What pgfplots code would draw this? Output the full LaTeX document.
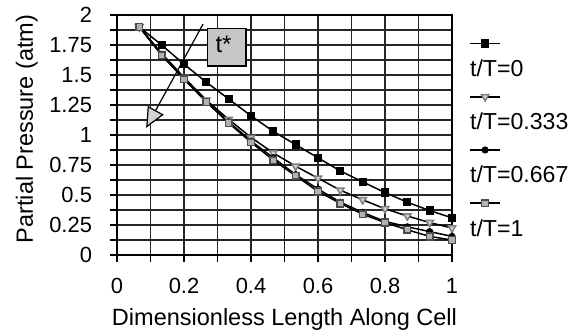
\documentclass[border=0pt]{standalone}
\usepackage{pgfplots}
\pgfplotsset{compat=1.18}
\usepackage{pgfplotstable}
\usepackage{fontspec}
\setmainfont{Liberation Sans}
\usetikzlibrary{arrows.meta}

\pgfplotstableread{
x y
0.0667 1.90
0.1333 1.75
0.2000 1.59
0.2667 1.44
0.3333 1.30
0.4000 1.16
0.4667 1.03
0.5333 0.92
0.6000 0.81
0.6667 0.70
0.7333 0.61
0.8000 0.52
0.8667 0.44
0.9333 0.37
1.0000 0.31
}\tA
\pgfplotstableread{
x y
0.0667 1.90
0.1333 1.68
0.2000 1.48
0.2667 1.29
0.3333 1.13
0.4000 0.98
0.4667 0.85
0.5333 0.74
0.6000 0.64
0.6667 0.54
0.7333 0.46
0.8000 0.385
0.8667 0.325
0.9333 0.27
1.0000 0.225
}\tB
\pgfplotstableread{
x y
0.0667 1.90
0.1333 1.67
0.2000 1.47
0.2667 1.28
0.3333 1.11
0.4000 0.95
0.4667 0.81
0.5333 0.67
0.6000 0.55
0.6667 0.44
0.7333 0.355
0.8000 0.28
0.8667 0.235
0.9333 0.195
1.0000 0.155
}\tC
\pgfplotstableread{
x y
0.0667 1.90
0.1333 1.665
0.2000 1.465
0.2667 1.275
0.3333 1.10
0.4000 0.94
0.4667 0.79
0.5333 0.66
0.6000 0.53
0.6667 0.43
0.7333 0.34
0.8000 0.27
0.8667 0.21
0.9333 0.155
1.0000 0.125
}\tD

\begin{document}
\begin{tikzpicture}
\begin{axis}[
  name=ax,
  scale only axis, width=167.5bp, height=120bp,
  xmin=0, xmax=1, ymin=0, ymax=2,
  xtick={0,0.2,0.4,0.6,0.8,1},
  minor xtick={0.1,0.3,0.5,0.7,0.9},
  xticklabels={0,0.2,0.4,0.6,0.8,1},
  ytick={0,0.25,0.5,0.75,1,1.25,1.5,1.75,2},
  minor ytick={0.125,0.375,0.625,0.875,1.125,1.375,1.625,1.875},
  yticklabels={0,0.25,0.5,0.75,1,1.25,1.5,1.75,2},
  grid=both,
  major grid style={black!85, line width=0.6bp},
  minor grid style={black!85, line width=0.6bp},
  tick align=outside, tick pos=left,
  major tick length=3.5bp, minor tick length=3.5bp,
  every tick/.style={black, line width=0.6bp},
  minor tick style={black, line width=0.6bp},
  axis line style={black, line width=0.6bp},
  font=\fontsize{11}{13}\selectfont,
  /pgf/number format/assume math mode=true,
  xticklabel style={yshift=-4.5bp},
  yticklabel style={xshift=-5.5bp},
  xlabel={Dimensionless Length Along Cell},
  ylabel={Partial Pressure (atm)},
  label style={font=\fontsize{11.8}{14}\selectfont},
  xlabel style={at={(axis description cs:0.5,-0.295)}, anchor=base},
  ylabel style={at={(axis description cs:-0.269,0.525)}, anchor=center},
  legend style={at={(axis description cs:1.054,0.81)}, anchor=north west,
    draw=none, fill=none, inner sep=0pt, outer sep=0pt,
    column sep=0pt, row sep=18.6bp,
    font=\fontsize{11.6}{14}\selectfont,
    nodes={inner sep=0pt, text height=8bp, text depth=0bp},
    cells={anchor=base west}},
  legend image code/.code={%
    \draw[mark repeat=2,mark phase=2,#1,overlay,yshift=16.5bp]
      plot coordinates {(0bp,0bp)(7.5bp,0bp)(15bp,0bp)};},
]
\addplot[black, line width=0.75bp, mark=square*, mark size=1.7bp,
  mark options={solid, fill=black}] table[x=x,y=y] {\tA};
\addlegendentry{t/T=0}
\addplot[black, line width=0.75bp, mark=triangle*, mark size=2.1bp,
  mark options={solid, rotate=180, fill=gray!35, draw=gray}] table[x=x,y=y] {\tB};
\addlegendentry{t/T=0.333}
\addplot[black, line width=0.75bp, mark=*, mark size=1.4bp,
  mark options={solid, fill=black}] table[x=x,y=y] {\tC};
\addlegendentry{t/T=0.667}
\addplot[black, line width=0.75bp, mark=square*, mark size=1.7bp,
  mark options={solid, fill=gray!60, draw=black!70}] table[x=x,y=y] {\tD};
\addlegendentry{t/T=1}
\draw[line width=0.6bp, -{Triangle[length=10bp,width=9bp,fill=gray!35]}]
  (axis cs:0.257,1.925) -- (axis cs:0.087,1.06);
\draw[fill=gray!45, line width=0.6bp] (axis cs:0.269,1.575) rectangle (axis cs:0.385,1.89);
\node[font=\fontsize{12}{14}\selectfont, inner sep=0pt] at (axis cs:0.318,1.755) {t*};
\end{axis}
\pgfresetboundingbox
\path[use as bounding box] ([shift={(-58.5bp,-40.5bp)}]ax.south west) rectangle ([shift={(62bp,7.5bp)}]ax.north east);
\end{tikzpicture}
\end{document}
